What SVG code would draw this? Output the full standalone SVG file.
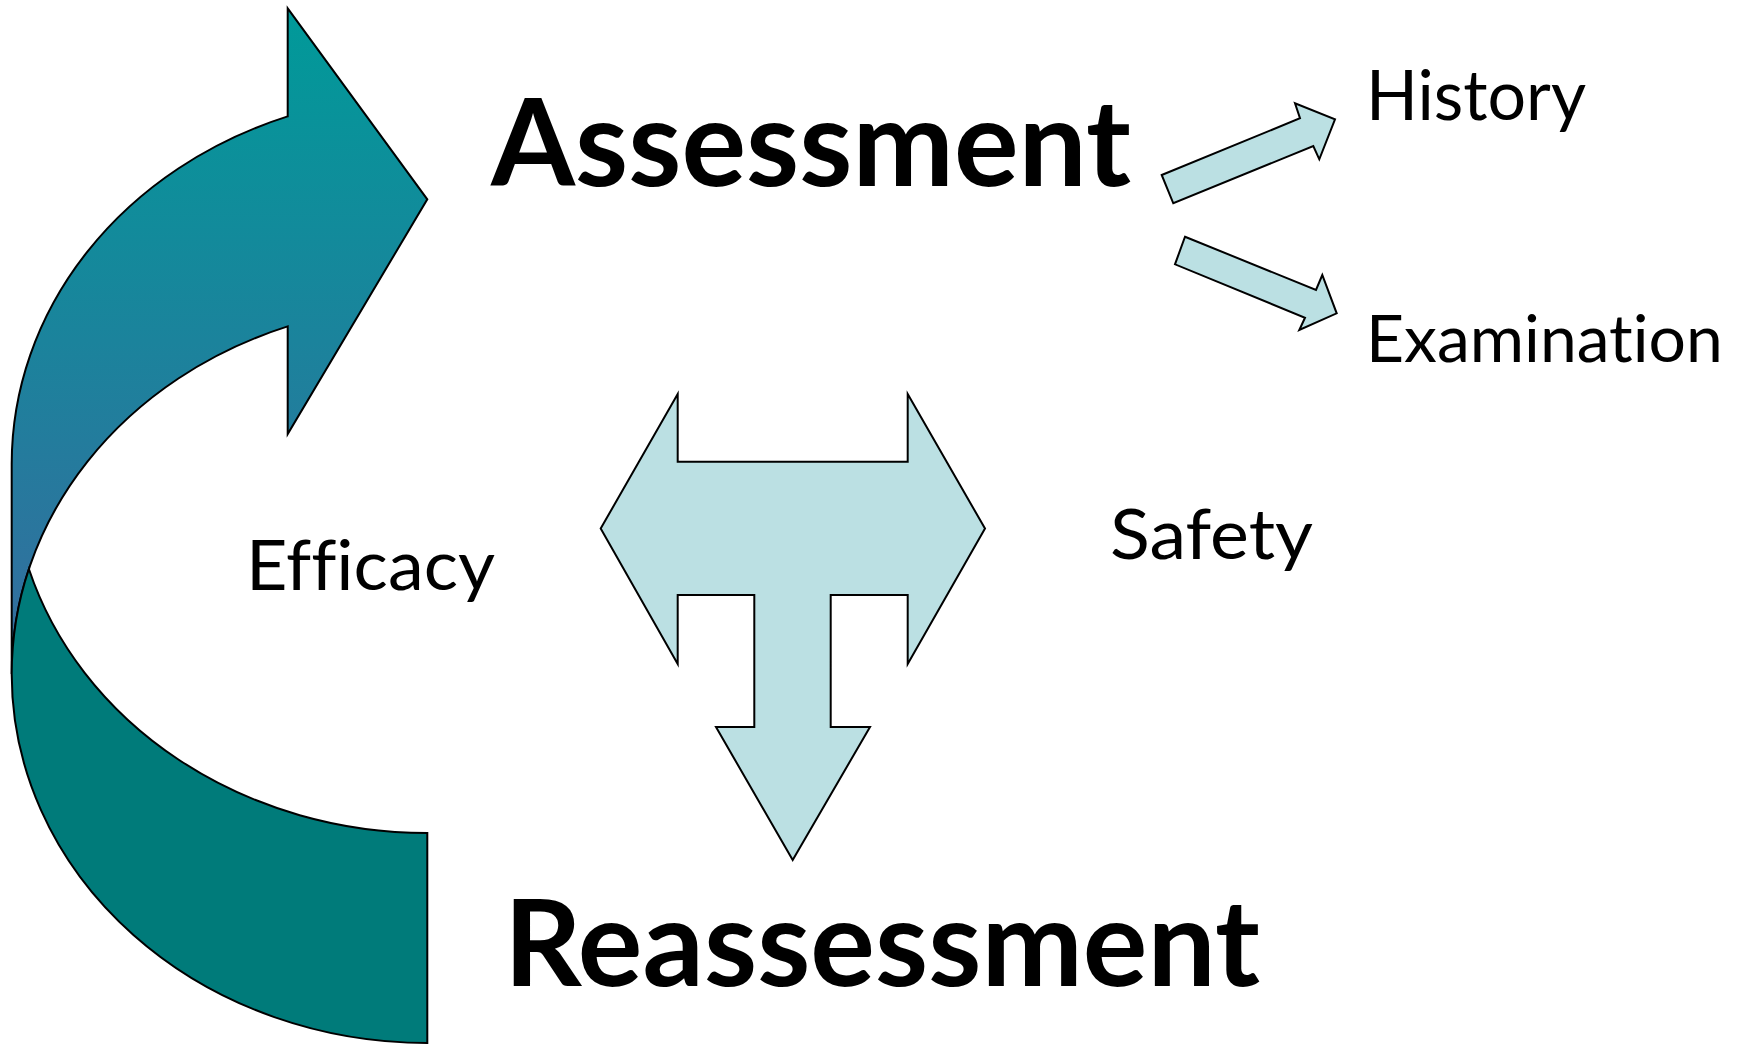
<svg xmlns="http://www.w3.org/2000/svg" width="1737" height="1048" viewBox="0 0 1737 1048">
  <defs>
    <!-- shading of the upper band of the cycle arrow -->
    <linearGradient id="cycleGrad" gradientUnits="userSpaceOnUse" x1="0" y1="8" x2="0" y2="674">
      <stop offset="0" stop-color="#009A99"/>
      <stop offset="1" stop-color="#366C9F"/>
    </linearGradient>
    <style>
      .lbl { font-family: "Comic Sans MS", Lato, sans-serif; fill: #000; font-variant-ligatures: none; }
      .big { font-size: 120px; font-weight: bold; }
      .small { font-size: 70px; }
      .shape { stroke: #000; stroke-width: 2; stroke-linejoin: miter; }
      .pale { fill: #BBE0E3; }
    </style>
  </defs>

  <rect width="1737" height="1048" fill="#ffffff"/>

  <g id="connectors">
    <!-- curved arrow: Reassessment loops back to Assessment -->
    <g id="cycle-arrow" class="shape">
      <path fill="url(#cycleGrad)" d="M 11.7 464 A 415.6 369 0 0 1 287.7 116.4 L 287.7 8.3 L 427.3 199.3 L 287.7 434 L 287.7 326.4 A 415.6 369 0 0 0 11.7 674 Z"/>
      <path fill="#007B7A" d="M 427.3 833 A 415.6 369 0 0 1 28.9 569 A 415.6 369 0 0 0 11.7 674 A 415.6 369 0 0 0 427.3 1043 Z"/>
    </g>

    <!-- three-way arrow: Efficacy / Safety / Reassessment -->
    <path id="split-arrow" class="shape pale" d="M 677.7 394 L 677.7 461.7 L 907.7 461.7 L 907.7 394 L 985 528.5 L 907.7 664 L 907.7 595 L 830.7 595 L 830.7 727 L 870 727 L 792.7 860 L 716 727 L 754.3 727 L 754.3 595 L 677.7 595 L 677.7 664 L 600.7 528.5 Z"/>

    <!-- Assessment to History -->
    <path id="arrow-history" class="shape pale" d="M 1161.7 175 L 1300 118.3 L 1295 103.3 L 1335 119.3 L 1319.3 159.3 L 1313.3 146 L 1173.3 203.3 Z"/>

    <!-- Assessment to Examination -->
    <path id="arrow-examination" class="shape pale" d="M 1185 236.7 L 1316 290 L 1322.3 275 L 1336.7 313.3 L 1299.3 330 L 1305 317.7 L 1175 264.3 Z"/>
  </g>

  <g id="node-assessment">
    <text class="lbl big" x="491" y="186" textLength="640" lengthAdjust="spacingAndGlyphs">Assessment</text>
  </g>
  <g id="node-history">
    <text class="lbl small" x="1366" y="120" textLength="220" lengthAdjust="spacingAndGlyphs">History</text>
  </g>
  <g id="node-examination">
    <text class="lbl small" x="1366" y="362" style="font-size:66px">Examination</text>
  </g>
  <g id="node-efficacy">
    <text class="lbl small" x="246" y="590" textLength="249" lengthAdjust="spacingAndGlyphs">Efficacy</text>
  </g>
  <g id="node-safety">
    <text class="lbl small" x="1110" y="559" textLength="203" lengthAdjust="spacingAndGlyphs">Safety</text>
  </g>
  <g id="node-reassessment">
    <text class="lbl big" x="504" y="986" textLength="756" lengthAdjust="spacingAndGlyphs">Reassessment</text>
  </g>
</svg>
